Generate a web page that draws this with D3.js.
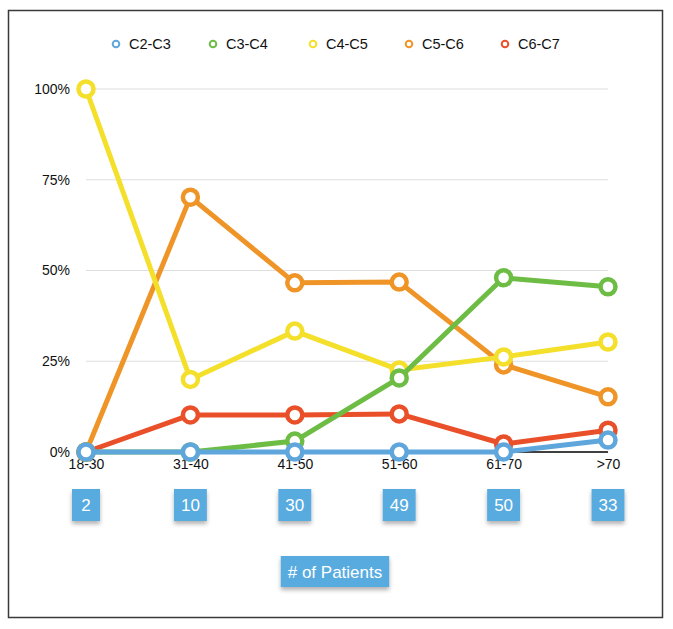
<!DOCTYPE html>
<html>
<head>
<meta charset="utf-8">
<script src="https://cdn.jsdelivr.net/npm/d3@7"></script>
<style>
  body { margin: 0; background: #fff; }
  svg { font-family: "Liberation Sans", Arial, Helvetica, sans-serif; }
</style>
</head>
<body>
<svg id="chart" width="673" height="629"></svg>
<script>
// data
var ageGroups = ["18-30", "31-40", "41-50", "51-60", "61-70", ">70"];
var patients = [2, 10, 30, 49, 50, 33];
var seriesNames = ["C2-C3", "C3-C4", "C4-C5", "C5-C6", "C6-C7"];
var c2c3 = [0, 0, 0, 0, 0, 3.3];
var c3c4 = [0, 0, 3, 20.4, 48, 45.5];
var c4c5 = [100, 20, 33.3, 22.6, 26.2, 30.3];
var c5c6 = [0, 70.2, 46.6, 46.8, 24, 15.2];
var c6c7 = [0, 10.2, 10.2, 10.5, 2.2, 6];
var yTicks = [0, 25, 50, 75, 100];

var colors = ["#5fa6dc", "#6dbd45", "#f4df2a", "#ef9528", "#e9502a"];
var allSeries = [c2c3, c3c4, c4c5, c5c6, c6c7];

var svg = d3.select("#chart");

// outer frame
svg.append("rect")
    .attr("x", 8.5).attr("y", 10.5)
    .attr("width", 654).attr("height", 607)
    .attr("fill", "none")
    .attr("stroke", "#3a3a3a")
    .attr("stroke-width", 1.5);

var x = d3.scalePoint().domain(ageGroups).range([86, 608]);
var y = d3.scaleLinear().domain([0, 100]).range([452, 89]);

// grid
svg.append("g").selectAll("line")
    .data(yTicks.filter(function (d) { return d > 0; }))
    .join("line")
    .attr("x1", 86).attr("x2", 608)
    .attr("y1", function (d) { return y(d); })
    .attr("y2", function (d) { return y(d); })
    .attr("stroke", "#dedede")
    .attr("stroke-width", 1);

svg.append("line")
    .attr("x1", 86).attr("x2", 608)
    .attr("y1", y(0)).attr("y2", y(0))
    .attr("stroke", "#000").attr("stroke-width", 1.5);

// y axis labels
var yAxis = svg.append("g")
    .attr("transform", "translate(86,0)")
    .call(d3.axisLeft(y).tickValues(yTicks).tickSize(0).tickPadding(16)
        .tickFormat(function (d) { return d + "%"; }));
yAxis.select(".domain").remove();
yAxis.selectAll("text").attr("font-size", 14).attr("fill", "#111")
    .attr("font-family", "Liberation Sans, Arial, sans-serif");

// x axis labels
var xAxis = svg.append("g")
    .attr("transform", "translate(0," + 456 + ")")
    .call(d3.axisBottom(x).tickSize(0).tickPadding(3));
xAxis.select(".domain").remove();
xAxis.selectAll("text").attr("font-size", 14).attr("fill", "#111")
    .attr("font-family", "Liberation Sans, Arial, sans-serif");

// lines, drawn last series first so blue ends on top
var line = d3.line()
    .x(function (d, i) { return x(ageGroups[i]); })
    .y(function (d) { return y(d); });

for (var s = allSeries.length - 1; s >= 0; s--) {
    var g = svg.append("g");
    g.append("path")
        .attr("d", line(allSeries[s]))
        .attr("fill", "none")
        .attr("stroke", colors[s])
        .attr("stroke-width", 5)
        .attr("stroke-linejoin", "round");
    g.selectAll("circle")
        .data(allSeries[s])
        .join("circle")
        .attr("cx", function (d, i) { return x(ageGroups[i]); })
        .attr("cy", function (d) { return y(d); })
        .attr("r", 7.5)
        .attr("fill", "#fff")
        .attr("stroke", colors[s])
        .attr("stroke-width", 4.5);
}

// legend
var legendX = [116, 213, 313, 409, 505];
var legend = svg.append("g").selectAll("g")
    .data(seriesNames)
    .join("g")
    .attr("transform", function (d, i) { return "translate(" + legendX[i] + ",44)"; });
legend.append("circle")
    .attr("r", 3.3)
    .attr("fill", "#fff")
    .attr("stroke", function (d, i) { return colors[i]; })
    .attr("stroke-width", 2);
legend.append("text")
    .attr("x", 13).attr("y", 5)
    .attr("font-size", 14.5)
    .attr("fill", "#111")
    .text(function (d) { return d; });

// shadow filter for the boxes
var defs = svg.append("defs");
var f = defs.append("filter").attr("id", "shadow")
    .attr("x", "-20%").attr("y", "-20%").attr("width", "140%").attr("height", "160%");
f.append("feDropShadow")
    .attr("dx", 0).attr("dy", 3).attr("stdDeviation", 2)
    .attr("flood-color", "#000").attr("flood-opacity", 0.3);

function box(parent, cx, top, h, txt, minW, pad) {
    var bg = parent.append("g");
    var r = bg.append("rect").attr("fill", "#59abdf").attr("filter", "url(#shadow)");
    var t = bg.append("text")
        .attr("x", cx).attr("y", top + h / 2 + 6)
        .attr("text-anchor", "middle")
        .attr("font-size", 17)
        .attr("fill", "#fff")
        .text(txt);
    var w = Math.max(minW, t.node().getComputedTextLength() + pad * 2);
    r.attr("x", cx - w / 2).attr("y", top).attr("width", w).attr("height", h);
}

var boxes = svg.append("g");
patients.forEach(function (p, i) {
    box(boxes, x(ageGroups[i]), 489, 32, String(p), 28, 7);
});
box(svg, 335, 556, 31, "# of Patients", 0, 7);
</script>
</body>
</html>
